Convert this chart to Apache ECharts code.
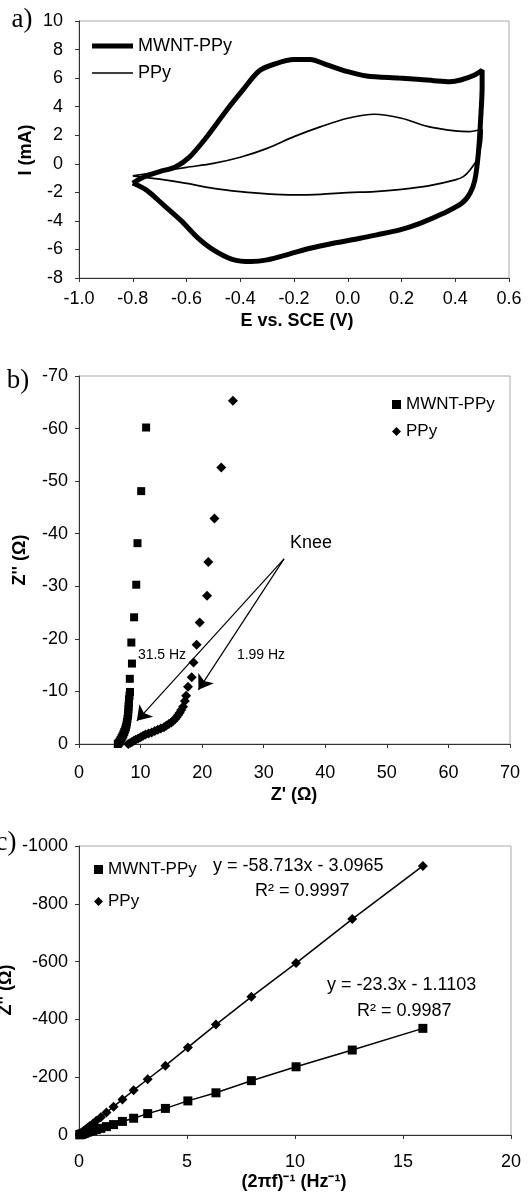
<!DOCTYPE html>
<html>
<head>
<meta charset="utf-8">
<script src="https://cdn.jsdelivr.net/npm/echarts@6/dist/echarts.min.js"></script>
<style>html,body{margin:0;padding:0;background:#fff}#chart{width:528px;height:1193px}</style>
</head>
<body>
<div id="chart"></div>
<script>
// ---------- Panel a: cyclic voltammograms [E (V), I (mA)] ----------
const cvMwntPpy = [[-0.80,-1.35],[-0.75,-0.85],[-0.70,-0.55],[-0.64,-0.20],[-0.59,0.45],[-0.53,1.75],[-0.45,3.77],[-0.39,5.17],[-0.33,6.50],[-0.27,7.00],[-0.20,7.30],[-0.14,7.30],[-0.08,6.95],[0.00,6.45],[0.07,6.15],[0.19,6.00],[0.27,5.90],[0.32,5.82],[0.38,5.75],[0.42,5.87],[0.47,6.20],[0.50,6.55],[0.50,5.40],[0.495,3.30],[0.486,0.74],[0.473,-1.13],[0.455,-2.06],[0.424,-2.77],[0.356,-3.47],[0.269,-4.17],[0.194,-4.63],[0.108,-4.98],[0.046,-5.22],[-0.054,-5.57],[-0.14,-5.92],[-0.215,-6.31],[-0.30,-6.73],[-0.36,-6.85],[-0.43,-6.69],[-0.50,-6.03],[-0.56,-5.15],[-0.62,-3.98],[-0.69,-2.81],[-0.75,-1.83],[-0.80,-1.35]];
const cvPpy = [[-0.80,-0.85],[-0.70,-0.55],[-0.60,-0.25],[-0.50,0.03],[-0.40,0.46],[-0.30,1.08],[-0.20,1.90],[-0.10,2.60],[0.00,3.19],[0.10,3.47],[0.20,3.19],[0.30,2.60],[0.40,2.30],[0.45,2.25],[0.50,2.42],[0.497,1.43],[0.48,0.27],[0.455,-0.43],[0.43,-0.90],[0.40,-1.13],[0.30,-1.55],[0.20,-1.79],[0.10,-1.95],[0.00,-2.02],[-0.10,-2.14],[-0.20,-2.18],[-0.30,-2.11],[-0.40,-1.95],[-0.50,-1.72],[-0.60,-1.37],[-0.70,-1.08],[-0.80,-0.85]];

// ---------- Panel b: Nyquist plot Z' (ohm), Z'' (ohm) ----------
const nyqReMwnt = [6.1,6.3,6.45,6.6,6.75,6.9,7.05,7.2,7.35,7.5,7.62,7.72,7.8,7.88,7.95,8.0,8.03,8.06,8.1,8.13,8.2,8.28,8.25,8.6,8.5,8.95,9.3,9.5,10.1,10.9];
const nyqImMwnt = [0.2,0.0,-0.2,-0.45,-0.75,-1.1,-1.45,-1.85,-2.3,-2.75,-3.2,-3.7,-4.2,-4.8,-5.4,-6.0,-6.6,-7.2,-7.8,-8.5,-9.2,-9.9,-12.4,-15.3,-19.3,-24.1,-30.3,-38.2,-48.1,-60.2];
const nyqRePpy = [8.0,8.3,8.6,8.9,9.2,9.6,10.0,10.4,10.8,11.3,11.8,12.3,12.8,13.3,13.8,14.2,14.6,15.0,15.3,15.6,15.85,16.1,16.35,16.6,16.9,17.2,17.4,17.7,18.3,18.6,19.1,19.6,20.8,21.0,22.0,23.1,25.0];
const nyqImPpy = [0,-0.2,-0.4,-0.6,-0.8,-1.05,-1.3,-1.55,-1.8,-2.0,-2.2,-2.45,-2.7,-2.95,-3.2,-3.5,-3.8,-4.1,-4.4,-4.75,-5.1,-5.5,-5.95,-6.45,-7.1,-8.2,-9.2,-10.9,-12.7,-15.5,-18.9,-23.1,-28.2,-34.6,-42.9,-52.6,-65.3];

// ---------- Panel c: Z'' vs (2*pi*f)^-1 ----------
const invOmega = [0.04,0.05,0.06,0.08,0.10,0.13,0.16,0.20,0.25,0.32,0.40,0.50,0.64,0.80,1.01,1.27,1.60,2.01,2.53,3.18,4.00,5.04,6.34,7.98,10.05,12.65,15.92];
const zImMwntC = [-1,-1.3,-1.6,-2,-2.5,-3,-4,-5,-6,-8,-10,-12,-15,-19,-23,-29,-36,-47,-58,-74,-92,-118,-146,-188,-236,-294,-369];
const zImPpyC = [-3,-3.5,-4,-5,-6,-8,-10,-13,-16,-20,-25,-31,-39,-49,-61,-78,-98,-123,-155,-193,-240,-303,-382,-478,-595,-747,-931];

// ---------- labels ----------
const seriesLabels = {aM:'MWNT-PPy', aP:'PPy', bM:'MWNT-PPy', bP:'PPy', cM:'MWNT-PPy', cP:'PPy'};
const fitTexts = ['y = -58.713x - 3.0965','R² = 0.9997','y = -23.3x - 1.1103','R² = 0.9987'];
const kneeArrows = {from:[33.3,-35.2], to1:[9.4,-4.4], to2:[19.4,-10.3]};

const zip = (a,b) => a.map((v,i)=>[v,b[i]]);
const FONT = 'Liberation Sans, Arial, sans-serif';
const axisCommon = (extra) => Object.assign({
  type:'value',
  axisLine:{onZero:false, lineStyle:{color:'#333', width:1}},
  axisTick:{show:true, length:4, lineStyle:{color:'#333'}},
  axisLabel:{color:'#000', fontSize:18, fontFamily:FONT},
  splitLine:{show:false}
}, extra);
const lbl = (margin, formatter) => ({color:'#000', fontSize:18, fontFamily:FONT, margin, formatter: formatter || (v=>String(Math.round(v)))});

const chart = echarts.init(document.getElementById('chart'), null, {renderer:'canvas'});
const txt = (text, x, y, opts={}) => Object.assign({
  type:'text', x, y, silent:true,
  style:Object.assign({text, fill:'#000', font: opts.font || ('18px ' + FONT), textAlign:'center', textVerticalAlign:'middle', align:'center', verticalAlign:'middle'}, opts.style||{})
}, opts.rotation ? {rotation:opts.rotation} : {});

const option = {
  animation:false,
  backgroundColor:'#fff',
  textStyle:{fontFamily:FONT},
  grid:[
    {left:79, top:21, width:430, height:257, show:true, borderColor:'#aaa', borderWidth:1},
    {left:79, top:376, width:431, height:368, show:true, borderColor:'#aaa', borderWidth:1},
    {left:79, top:846, width:432, height:289, show:true, borderColor:'#aaa', borderWidth:1}
  ],
  xAxis:[
    axisCommon({gridIndex:0, min:-1, max:0.6, interval:0.2, axisLabel:lbl(12, v=>Math.abs(v)<1e-9?'0.0':v.toFixed(1))}),
    axisCommon({gridIndex:1, min:0, max:70, interval:10, axisLabel:lbl(20)}),
    axisCommon({gridIndex:2, min:0, max:20, interval:5, axisLabel:lbl(18)})
  ],
  yAxis:[
    axisCommon({gridIndex:0, min:-8, max:10, interval:2, axisLabel:lbl(16)}),
    axisCommon({gridIndex:1, min:-70, max:0, interval:10, inverse:true, axisLabel:lbl(11)}),
    axisCommon({gridIndex:2, min:-1000, max:0, interval:200, inverse:true, axisLabel:lbl(11)})
  ],
  legend:[
    {data:[{name:'aM', icon:'path://M0,0H41V5H0Z'},{name:'aP', icon:'path://M0,0H41V1.6H0Z'}], left:87, top:32, orient:'vertical', itemWidth:41, itemHeight:14, itemGap:9,
     formatter:n=>seriesLabels[n], textStyle:{fontSize:18, color:'#000', fontFamily:FONT}, itemStyle:{color:'#000'}, selectedMode:false},
    {data:[{name:'bM', icon:'rect'},{name:'bP', icon:'diamond'}], left:387, top:391, orient:'vertical', itemWidth:9, itemHeight:9, itemGap:10,
     formatter:n=>seriesLabels[n], textStyle:{fontSize:17, color:'#000', fontFamily:FONT}, selectedMode:false},
    {data:[{name:'cM', icon:'rect'},{name:'cP', icon:'diamond'}], left:89, top:856, orient:'vertical', itemWidth:9, itemHeight:9, itemGap:15,
     formatter:n=>seriesLabels[n], textStyle:{fontSize:17, color:'#000', fontFamily:FONT}, selectedMode:false}
  ],
  series:[
    {name:'aM', type:'line', xAxisIndex:0, yAxisIndex:0, data:cvMwntPpy, symbol:'none', smooth:0.3, lineStyle:{color:'#000', width:5}, itemStyle:{color:'#000'}},
    {name:'aP', type:'line', xAxisIndex:0, yAxisIndex:0, data:cvPpy, symbol:'none', smooth:0.3, lineStyle:{color:'#000', width:1.7}, itemStyle:{color:'#000'}},
    {name:'bM', type:'scatter', xAxisIndex:1, yAxisIndex:1, data:zip(nyqReMwnt, nyqImMwnt), symbol:'rect', symbolSize:8, itemStyle:{color:'#000', opacity:1}},
    {name:'bP', type:'scatter', xAxisIndex:1, yAxisIndex:1, data:zip(nyqRePpy, nyqImPpy), symbol:'diamond', symbolSize:10, itemStyle:{color:'#000', opacity:1},
     markLine:{silent:true, symbol:['none','arrow'], symbolSize:14, label:{show:false}, lineStyle:{color:'#000', width:1.2, type:'solid'},
       data:[[{coord:kneeArrows.from},{coord:kneeArrows.to1}],[{coord:kneeArrows.from},{coord:kneeArrows.to2}]]}},
    {name:'cM', type:'line', xAxisIndex:2, yAxisIndex:2, data:zip(invOmega, zImMwntC), symbol:'rect', symbolSize:9, lineStyle:{color:'#000', width:1.5}, itemStyle:{color:'#000'}},
    {name:'cP', type:'line', xAxisIndex:2, yAxisIndex:2, data:zip(invOmega, zImPpyC), symbol:'diamond', symbolSize:10, lineStyle:{color:'#000', width:1.5}, itemStyle:{color:'#000'}}
  ],
  graphic:[
    txt('a)', 22, 20, {font:'27px Liberation Serif, Times New Roman, serif'}),
    txt('b)', 18, 381, {font:'27px Liberation Serif, Times New Roman, serif'}),
    txt('c)', 6, 843, {font:'27px Liberation Serif, Times New Roman, serif'}),
    txt('I (mA)', 26, 150, {font:'bold 18px ' + FONT, rotation:Math.PI/2}),
    txt('E vs. SCE (V)', 297, 321, {font:'bold 18px ' + FONT}),
    txt("Z'' (Ω)", 20, 560, {font:'bold 18px ' + FONT, rotation:Math.PI/2}),
    txt("Z' (Ω)", 294, 795, {font:'bold 18px ' + FONT}),
    txt("Z'' (Ω)", 6, 990, {font:'bold 18px ' + FONT, rotation:Math.PI/2}),
    txt('(2πf)⁻¹ (Hz⁻¹)', 294, 1182, {font:'bold 18px ' + FONT}),
    txt('Knee', 311, 543, {font:'18px ' + FONT}),
    txt('31.5 Hz', 162, 655, {font:'14px ' + FONT}),
    txt('1.99 Hz', 261, 655, {font:'14px ' + FONT}),
    txt(fitTexts[0], 213, 866, {font:'18px ' + FONT, style:{textAlign:'left', align:'left'}}),
    txt(fitTexts[1], 255, 891, {font:'18px ' + FONT, style:{textAlign:'left', align:'left'}}),
    txt(fitTexts[2], 327, 985, {font:'18px ' + FONT, style:{textAlign:'left', align:'left'}}),
    txt(fitTexts[3], 357, 1011, {font:'18px ' + FONT, style:{textAlign:'left', align:'left'}})
  ]
};
chart.setOption(option);
</script>
</body>
</html>
